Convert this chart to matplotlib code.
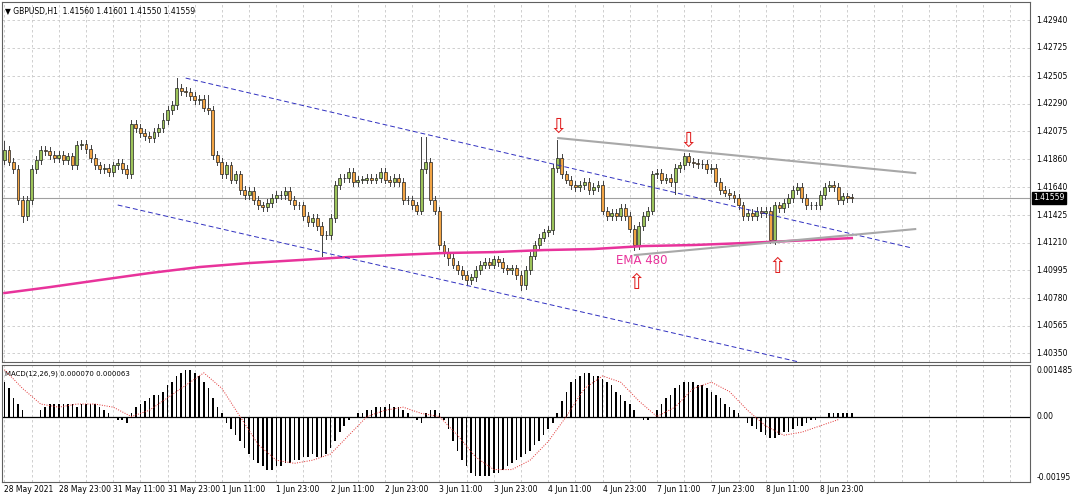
import matplotlib
matplotlib.use("Agg")
import matplotlib.pyplot as plt
import numpy as np

closes = [1.4193,1.4184,1.4178,1.4154,1.4142,1.4154,1.4178,1.4185,1.4193,1.4192,
1.4189,1.4187,1.4189,1.4185,1.4188,1.4181,1.4197,1.4198,1.4194,1.4187,
1.4181,1.4178,1.4179,1.4176,1.4181,1.4183,1.4178,1.4174,1.4213,1.4210,
1.4206,1.4204,1.4202,1.4207,1.4210,1.4216,1.4224,1.4228,1.4241,1.4239,
1.4238,1.4235,1.4232,1.4233,1.4226,1.4224,1.4189,1.4184,1.4174,1.4181,
1.4170,1.4174,1.4162,1.4158,1.4161,1.4154,1.4150,1.4149,1.4152,1.4156,
1.4158,1.4158,1.4161,1.4154,1.4150,1.4150,1.4142,1.4137,1.4140,1.4134,
1.4127,1.4127,1.4140,1.4166,1.4171,1.4171,1.4176,1.4168,1.4170,1.4170,
1.4171,1.4170,1.4171,1.4176,1.4170,1.4168,1.4171,1.4168,1.4154,1.4154,
1.4150,1.4146,1.4178,1.4184,1.4154,1.4146,1.4119,1.4114,1.4109,1.4104,
1.4100,1.4096,1.4092,1.4094,1.4100,1.4104,1.4106,1.4104,1.4108,1.4106,
1.4101,1.4100,1.4101,1.4096,1.4088,1.4100,1.4111,1.4119,1.4125,1.4129,
1.4131,1.4179,1.4187,1.4174,1.4170,1.4166,1.4164,1.4166,1.4168,1.4162,
1.4164,1.4166,1.4146,1.4142,1.4144,1.4142,1.4148,1.4142,1.4132,1.4119,
1.4134,1.4142,1.4146,1.4174,1.4175,1.4170,1.4171,1.4168,1.4179,1.4181,
1.4188,1.4184,1.4183,1.4182,1.4182,1.4178,1.4179,1.4168,1.4162,1.4160,
1.4158,1.4156,1.4150,1.4142,1.4144,1.4142,1.4146,1.4144,1.4146,1.4123,
1.4150,1.4148,1.4152,1.4156,1.4162,1.4164,1.4156,1.4150,1.4150,1.4150,
1.4158,1.4164,1.4166,1.4164,1.4154,1.4157,1.4156,1.41559]
first_open = 1.4185
extra_high = {38:1.4249, 92:1.4203, 93:1.4203, 122:1.4201, 150:1.4191, 0:1.4200, 35:1.4222, 45:1.4236}
extra_low = {4:1.4137, 70:1.4111, 102:1.4088, 114:1.4084, 139:1.4115, 169:1.4121, 98:1.4104, 148:1.4159}
wick = 0.0003

ema_idx = [0,10,21,32,43,54,65,76,86,97,108,119,130,141,152,163,173,187]
ema_val = [1.40819,1.40865,1.40920,1.40974,1.41021,1.41052,1.41075,1.41099,1.41114,
           1.41130,1.41137,1.41153,1.41161,1.41184,1.41192,1.41207,1.41223,1.41246]

macd = [0.0011,0.0009,0.0006,0.0004,0.0002,0.0000,-0.00005,0.0,
0.0002,0.0003,0.0004,0.0004,0.0004,0.0004,0.0004,0.0004,0.0003,0.0004,0.0004,0.0004,0.0004,0.0003,
0.0002,0.0001,0.0,-0.0001,-0.0001,-0.0002,
0.0001,0.0003,0.0004,0.0005,0.0006,0.0007,0.0007,0.0008,0.0010,0.0011,0.0013,0.0014,0.0015,0.0015,0.0014,0.0013,
0.0011,0.0009,0.0006,0.0003,0.0001,-0.0002,
-0.0004,-0.0006,-0.0008,-0.0010,-0.0012,-0.0014,-0.0015,-0.0016,-0.0017,-0.0017,-0.0016,
-0.0016,-0.0015,-0.0015,-0.0014,-0.0014,-0.0013,-0.0013,-0.0012,-0.0013,-0.0013,-0.0012,-0.0010,
-0.0008,-0.0005,-0.0003,-0.0001,0.0,0.0001,0.0001,
0.0002,0.0002,0.0003,0.0003,0.0003,0.0004,0.0003,0.0003,0.0002,0.0001,0.0,-0.0001,-0.0002,
0.0001,0.0002,0.0002,0.0001,-0.0001,
-0.0004,-0.0008,-0.0011,-0.0014,-0.0016,-0.0018,-0.0019,-0.0019,-0.0019,-0.0019,-0.0018,-0.0018,-0.0017,
-0.0016,-0.0015,-0.0014,-0.0013,-0.0012,-0.0011,-0.0009,-0.0008,-0.0006,-0.0004,-0.0002,
0.0001,
0.0005,0.0008,0.0011,0.0012,0.0013,0.0014,0.0014,0.0013,0.0013,
0.0012,0.0011,0.0010,0.0008,0.0007,0.0005,0.0004,0.0002,0.0000,-0.0001,
-0.0001,0.0,0.0002,0.0004,0.0006,
0.0007,0.0009,0.0010,0.0011,0.0011,0.0011,0.0010,0.0010,0.0009,0.0008,
0.0007,0.0006,0.0004,0.0003,0.0002,0.0001,0.0,-0.0002,
-0.0003,-0.0004,-0.0005,-0.0006,-0.0007,-0.0007,-0.0006,-0.0005,-0.0005,-0.0004,-0.0003,-0.0003,-0.0002,
-0.0001,-0.0001,0.0,0.0,0.0001,0.0001,0.0001,0.0001,0.0001,0.0001]
signal = [0.0015,0.0009,0.0004,0.0003,0.0004,0.0004,0.0003,0.0000,0.0002,0.0006,
0.0010,0.0014,0.0009,0.0000,-0.0009,-0.0014,-0.0015,-0.0014,-0.0012,-0.0006,
0.0000,0.0002,0.0003,0.0001,0.0000,-0.0006,-0.0013,-0.0017,-0.0017,-0.0014,
-0.0008,0.0000,0.0009,0.0013,0.0011,0.0005,0.0000,0.0003,0.0009,0.0011,
0.0008,0.0002,-0.0003,-0.0006,-0.0005,-0.0003,-0.0001]

price_ticks = [1.42940,1.42725,1.42505,1.42290,1.42075,1.41860,1.41640,1.41425,
               1.41210,1.40995,1.40780,1.40565,1.40350]
time_labels = ["28 May 2021","28 May 23:00","31 May 11:00","31 May 23:00","1 Jun 11:00",
               "1 Jun 23:00","2 Jun 11:00","2 Jun 23:00","3 Jun 11:00","3 Jun 23:00",
               "4 Jun 11:00","4 Jun 23:00","7 Jun 11:00","7 Jun 23:00","8 Jun 11:00","8 Jun 23:00"]
current = 1.41559

fig = plt.figure(figsize=(10.8, 4.98), dpi=100)
ax = fig.add_axes([0.002, 0.273, 0.952, 0.723])
am = fig.add_axes([0.002, 0.032, 0.952, 0.235])
xmax = 226.4
for a in (ax, am):
    a.set_xlim(-0.5, xmax)
    a.set_xticks([])
    a.set_yticks([])
    for s in ("top", "left", "bottom", "right"):
        a.spines[s].set_color("#606060"); a.spines[s].set_linewidth(0.8)
    for k in range(0, int(xmax), 6):
        a.axvline(k, color="#c8c8c8", lw=0.6, ls=(0, (3, 3)), zorder=0)
ax.set_ylim(1.40283, 1.43080)
am.set_ylim(-0.0021, 0.00165)
for p in price_ticks:
    ax.axhline(p, color="#c8c8c8", lw=0.6, ls=(0, (3, 3)), zorder=0)
    ax.text(1.006, p, f"{p:.5f}", transform=ax.get_yaxis_transform(), fontsize=5.5, va="center", ha="left")
for i, t in enumerate(time_labels):
    am.text(i * 12, -0.0022, t, fontsize=5.5, va="top", ha="left")

# candles
opens = [first_open] + closes[:-1]
n = len(closes)
for i in range(n):
    o, c = opens[i], closes[i]
    hi = extra_high.get(i, max(o, c) + wick)
    lo = extra_low.get(i, min(o, c) - wick)
    ax.plot([i, i], [lo, hi], color="#404040", lw=0.7, zorder=2)
    col = "#9cc35a" if c >= o else "#f2a444"
    h = abs(c - o) if abs(c - o) > 0.00003 else 0.00003
    ax.add_patch(plt.Rectangle((i - 0.32, min(o, c)), 0.64, h, facecolor=col,
                               edgecolor="#202020", lw=0.5, zorder=3))

ax.plot(ema_idx, ema_val, color="#e8339b", lw=1.8, zorder=4)
ax.text(135, 1.41045, "EMA 480", color="#e8339b", fontsize=8.5)
ax.axhline(current, color="#a0a0a0", lw=0.8, zorder=1)
ax.text(1.003, current, f"{current:.5f}", transform=ax.get_yaxis_transform(), fontsize=5.5,
        va="center", ha="left", color="white", bbox=dict(fc="black", ec="black", pad=1))

# drawn trend lines
ax.plot([40, 200.4], [1.42489, 1.41168], color="#3030c0", lw=0.7, ls=(0, (5, 3)), zorder=4)
ax.plot([25, 175.4], [1.41503, 1.40283], color="#3030c0", lw=0.7, ls=(0, (5, 3)), zorder=4)
ax.plot([122.2, 201], [1.42023, 1.41751], color="#a8a8a8", lw=1.5, zorder=4)
ax.plot([139.1, 201], [1.41114, 1.41316], color="#a8a8a8", lw=1.5, zorder=4)
for (xi, yp, s) in [(122.2, 1.4211, "⇩"), (150.8, 1.4200, "⇩"), (139.5, 1.4090, "⇧"), (170.5, 1.4102, "⇧")]:
    ax.text(xi, yp, s, color="#e02020", fontsize=15, ha="center", va="center", zorder=5)

ax.text(0.003, 0.985, "▼ GBPUSD,H1  1.41560 1.41601 1.41550 1.41559", transform=ax.transAxes,
        fontsize=5.5, va="top", ha="left")

# MACD
am.bar(range(len(macd)), macd, width=0.35, color="black", zorder=3)
am.plot(range(0, 4 * len(signal), 4), signal, color="#e03030", lw=0.7, ls=(0, (1, 1.5)), zorder=4)
am.axhline(0, color="black", lw=0.9, zorder=2)
am.text(0.003, 0.95, "MACD(12,26,9) 0.000070 0.000063", transform=am.transAxes, fontsize=5, va="top")
for v, s in [(0.001485, "0.001485"), (0.0, "0.00"), (-0.00195, "-0.00195")]:
    am.text(1.006, v, s, transform=am.get_yaxis_transform(), fontsize=5.5, va="center", ha="left")

fig.savefig("out.png", dpi=100)
